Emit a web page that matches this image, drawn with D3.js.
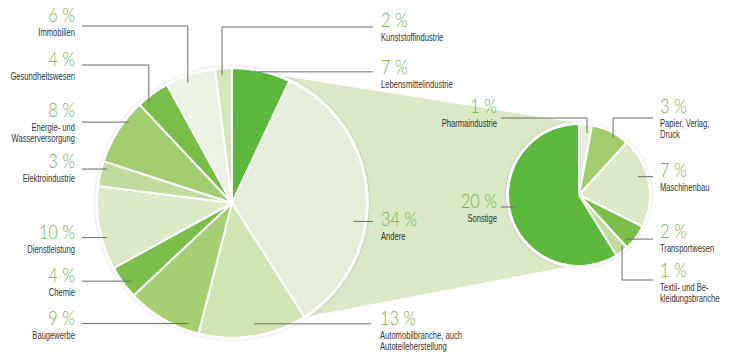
<!DOCTYPE html>
<html>
<head>
<meta charset="utf-8">
<script src="https://cdn.jsdelivr.net/npm/d3@7/dist/d3.min.js"></script>
<style>
  html, body { margin: 0; padding: 0; background: #ffffff; }
  svg { display: block; }
  .pct { font-family: Lato, "Liberation Sans", sans-serif; font-weight: 300; font-size: 19px; fill: #6db54c; }
  .cat { font-family: "Liberation Sans", Arial, sans-serif; font-size: 10px; fill: #333333; }
  .leader { fill: none; stroke: #6a6a6a; stroke-width: 1; }
</style>
</head>
<body>
<svg id="chart" width="730" height="361"></svg>
<script>
// ---------- data ----------
const mainCategories = [
  "Lebensmittelindustrie", "Andere", "Automobilbranche, auch|Autoteileherstellung",
  "Baugewerbe", "Chemie", "Dienstleistung", "Elektroindustrie",
  "Energie- und|Wasserversorgung", "Gesundheitswesen", "Immobilien", "Kunststoffindustrie"
];
const mainValues = [7, 34, 13, 9, 4, 10, 3, 8, 4, 6, 2];
const mainLabels = ["7 %", "34 %", "13 %", "9 %", "4 %", "10 %", "3 %", "8 %", "4 %", "6 %", "2 %"];

const subCategories = [
  "Pharmaindustrie", "Papier, Verlag,|Druck", "Maschinenbau",
  "Transportwesen", "Textil- und Be-|kleidungsbranche", "Sonstige"
];
const subValues = [1, 3, 7, 2, 1, 20];
const subLabels = ["1 %", "3 %", "7 %", "2 %", "1 %", "20 %"];

// ---------- styles ----------
const mainColors = ["#5cb73d", "#e6eedb", "#d0e4b4", "#a6cf73", "#7bbf4a", "#dbe9c6",
                    "#c0db9b", "#a2cd6e", "#78bd47", "#edf3e4", "#d3e5bb"];
const subColors  = ["#e6eedb", "#a2cd6e", "#dbe9c6", "#7bbf4a", "#c0db9b", "#5cb73d"];
const bridgeColor = "#dae8c5";
const pctScale = 0.86;
const catScale = 0.76;

// ---------- layout ----------
const mainGeo = { cx: 232, cy: 203, r: 135 };
const subGeo  = { cx: 579, cy: 195, r: 71 };

const mainLayout = [
  { anchor: "start", tx: 381, ty: 74,  f: 0.44, k: 0.99, lx: 373 },
  { anchor: "start", tx: 381, ty: 226, f: 0.60, k: 0.91, lx: 373 },
  { anchor: "start", tx: 380, ty: 325, f: 0.47, k: 0.91, lx: 371 },
  { anchor: "end",   tx: 75,  ty: 325, f: 0.17, k: 0.95, lx: 82 },
  { anchor: "end",   tx: 75,  ty: 282, f: 0.36, k: 0.94, lx: 82 },
  { anchor: "end",   tx: 75,  ty: 239, f: 0.37, k: 0.96, lx: 82 },
  { anchor: "end",   tx: 75,  ty: 168, f: 0.74, k: 0.96, lx: 82 },
  { anchor: "end",   tx: 75,  ty: 117, f: 0.70, k: 0.97, lx: 82 },
  { anchor: "end",   tx: 75,  ty: 66,  f: 0.26, k: 0.97, lx: 82, elbow: 65 },
  { anchor: "end",   tx: 75,  ty: 22,  f: 0.40, k: 0.95, lx: 82, elbow: 26 },
  { anchor: "start", tx: 381, ty: 27,  f: 0.38, k: 0.95, lx: 373, elbow: 27 }
];
const subLayout = [
  { anchor: "end",   tx: 497, ty: 113, f: 0.70, k: 0.88, lx: 501, elbow: 118 },
  { anchor: "start", tx: 660, ty: 113, f: 0.64, k: 0.935, lx: 653, elbow: 118 },
  { anchor: "start", tx: 660, ty: 177, f: 0.41, k: 0.87, lx: 653 },
  { anchor: "start", tx: 660, ty: 238, f: 0.81, k: 0.90, lx: 653 },
  { anchor: "start", tx: 660, ty: 277, f: 0.16, k: 0.93, lx: 653, elbow: 280 },
  { anchor: "end",   tx: 497, ty: 208, f: 0.525, k: 0.92, lx: 501 }
];

// ---------- drawing ----------
const svg = d3.select("#chart");
const defs = svg.append("defs");
const flt = defs.append("filter").attr("id", "shadow")
  .attr("x", "-10%").attr("y", "-10%").attr("width", "120%").attr("height", "120%");
flt.append("feGaussianBlur").attr("in", "SourceAlpha").attr("stdDeviation", 1.5).attr("result", "b");
flt.append("feComponentTransfer").attr("in", "b").attr("result", "c")
  .append("feFuncA").attr("type", "linear").attr("slope", 0.25);
const mg = flt.append("feMerge");
mg.append("feMergeNode").attr("in", "c");
mg.append("feMergeNode").attr("in", "SourceGraphic");

const pie = d3.pie().sort(null).value(d => d);
const mainArcs = pie(mainValues);
const subArcs = pie(subValues);

const polar = (geo, a, rr) => [geo.cx + rr * Math.sin(a), geo.cy - rr * Math.cos(a)];

// bridge between "Andere" and the detail pie
const andere = mainArcs[1];
const bridgePts = [
  polar(mainGeo, andere.startAngle - 0.055, mainGeo.r + 2),
  polar(subGeo, 0.09, subGeo.r),
  polar(subGeo, Math.PI + 0.09, subGeo.r),
  polar(mainGeo, andere.endAngle, mainGeo.r),
  polar(mainGeo, Math.PI / 2, 0)
];
svg.append("path")
  .attr("d", d3.line()(bridgePts) + "Z")
  .attr("fill", bridgeColor);

function drawPie(arcs, geo, colors) {
  const g = svg.append("g").attr("transform", `translate(${geo.cx},${geo.cy})`);
  g.append("circle").attr("r", geo.r + 1.5).attr("fill", "#ffffff").attr("filter", "url(#shadow)");
  const arc = d3.arc().innerRadius(0).outerRadius(geo.r);
  g.selectAll("path.slice").data(arcs).join("path")
    .attr("class", "slice")
    .attr("d", arc)
    .attr("fill", (d, i) => colors[i])
    .attr("stroke", "#ffffff")
    .attr("stroke-width", 2)
    .attr("stroke-linejoin", "round");
  g.append("circle").attr("r", geo.r + 0.5).attr("fill", "none")
    .attr("stroke", "#ffffff").attr("stroke-width", 2.5);
}
drawPie(mainArcs, mainGeo, mainColors);
drawPie(subArcs, subGeo, subColors);

function addText(cls, x, y, anchor, sx, str) {
  svg.append("text").attr("class", cls)
    .attr("transform", `translate(${x},${y}) scale(${sx},1)`)
    .attr("text-anchor", anchor)
    .text(str);
}

function drawLabels(arcs, geo, layout, labels, cats) {
  arcs.forEach((a, i) => {
    const L = layout[i];
    const ang = a.startAngle + L.f * (a.endAngle - a.startAngle);
    const p = polar(geo, ang, L.k * geo.r);
    const d = (L.elbow !== undefined)
      ? `M${p[0]},${p[1]}V${L.elbow}H${L.lx}`
      : `M${p[0]},${p[1]}H${L.lx}`;
    svg.append("path").attr("class", "leader").attr("d", d);
    addText("pct", L.tx, L.ty, L.anchor, pctScale, labels[i]);
    cats[i].split("|").forEach((ln, j) => {
      addText("cat", L.tx, L.ty + 14 + j * 11, L.anchor, catScale, ln);
    });
  });
}
drawLabels(mainArcs, mainGeo, mainLayout, mainLabels, mainCategories);
drawLabels(subArcs, subGeo, subLayout, subLabels, subCategories);
</script>
</body>
</html>
